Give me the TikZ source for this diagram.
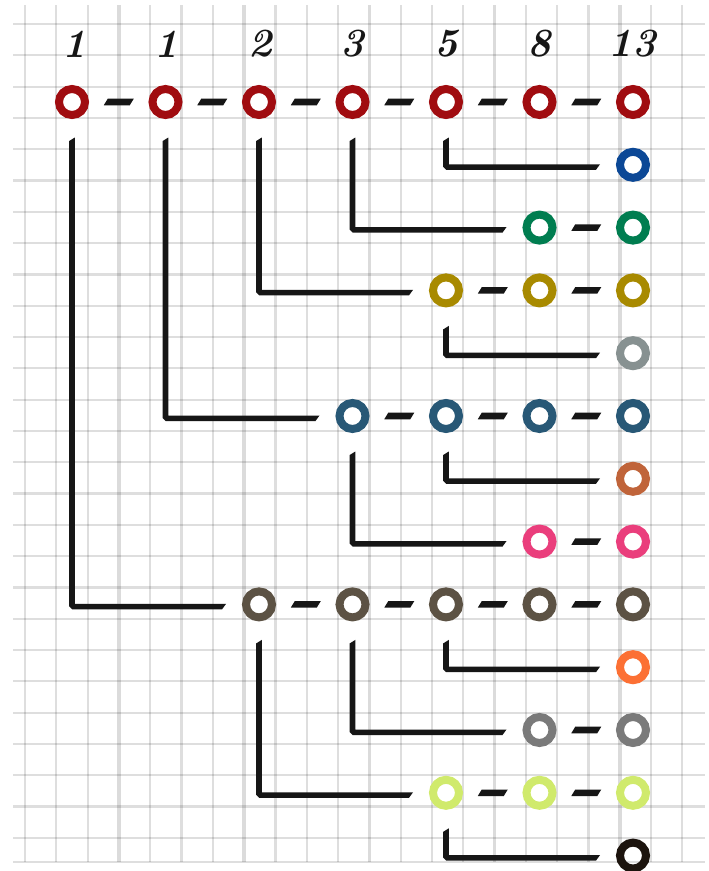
\documentclass[tikz,border=0pt]{standalone}
\usetikzlibrary{calc}
\definecolor{cR}{RGB}{160,12,16}
\definecolor{cB}{RGB}{12,72,150}
\definecolor{cG}{RGB}{0,125,80}
\definecolor{cY}{RGB}{168,138,0}
\definecolor{cL}{RGB}{135,145,145}
\definecolor{cT}{RGB}{40,88,118}
\definecolor{cO}{RGB}{192,100,58}
\definecolor{cP}{RGB}{234,62,124}
\definecolor{cD}{RGB}{92,82,68}
\definecolor{cF}{RGB}{252,112,52}
\definecolor{cM}{RGB}{122,122,122}
\definecolor{cV}{RGB}{208,234,108}
\definecolor{cK}{RGB}{28,20,14}
\definecolor{inkc}{RGB}{22,22,22}
\tikzset{
  ring/.style={circle, draw=#1, line width=8pt, minimum size=26pt, inner sep=0pt, outer sep=0pt},
  ink/.style={fill=inkc},
  gridline/.style={black, opacity=0.13, line width=2.2pt},
  gridthick/.style={black, opacity=0.14, line width=3.6pt},
  numlbl/.style={font=\fontsize{40}{40}\selectfont\bfseries\itshape, inner sep=0pt, text=inkc}
}
\newcommand\dashbar[2]{%
  \fill[ink] let \p1=(#1.center), \p2=(#2.center), \p3=($(#1.center)!0.5!(#2.center)$) in
  (\x3-15pt,\y3-3.3pt) -- (\x3+11pt,\y3-3.3pt) -- (\x3+15pt,\y3+3.3pt) -- (\x3-11pt,\y3+3.3pt) -- cycle;}
\newcommand\brushL[2]{%
  \fill[ink] let \p1=(#1.center), \p2=(#2.center) in
  (\x1-2.8pt,\y1-39pt) -- (\x1+2.8pt,\y1-35.5pt) -- (\x1+2.8pt,\y2+0.5pt)
  -- (\x2-33pt,\y2+0.5pt) -- (\x2-37pt,\y2-5pt) -- (\x1+0.2pt,\y2-5pt)
  -- (\x1-2.8pt,\y2-2pt) -- cycle;}
\newcommand\ringrow[3]{%
  \foreach \c in {#2,...,6} {\node[ring=#3] (r#1c\c) at ({72+93.5*\c},{102+62.8*#1}) {};}
  \ifnum#2<6
    \foreach \c [evaluate=\c as \d using int(\c+1)] in {#2,...,5} {\dashbar{r#1c\c}{r#1c\d}}
  \fi}
\begin{document}
\begin{tikzpicture}[x=1pt,y=-1pt]
\useasboundingbox (0,0) rectangle (709,871);
\fill[white] (0,0) rectangle (709,871);
% grid
\foreach \k in {0,1,2,4,5,6,8,9,10,12,13,14,16,17,18,20,21} {\draw[gridline] ({25+31.3*\k},5) -- ({25+31.3*\k},862);}
\foreach \k in {3,7,11,15,19} {\draw[gridthick] ({25+31.3*\k},5) -- ({25+31.3*\k},862);}
\foreach \k in {0,...,26} {\draw[gridline] (13,{24+31.3*\k}) -- (705,{24+31.3*\k});}
\draw[gridline] (13,862) -- (705,862);
% numbers
\node[numlbl] (n0) at (74,44) {1};
\node[numlbl] (n1) at (166,44) {1};
\node[numlbl] (n2) at (260,44) {2};
\node[numlbl] (n3) at (352,44) {3};
\node[numlbl] (n4) at (446,44) {5};
\node[numlbl] (n5) at (539,44) {8};
\node[numlbl] (n6) at (632,44) {13};
% rows of rings
\ringrow{0}{0}{cR}
\ringrow{1}{6}{cB}
\ringrow{2}{5}{cG}
\ringrow{3}{4}{cY}
\ringrow{4}{6}{cL}
\ringrow{5}{3}{cT}
\ringrow{6}{6}{cO}
\ringrow{7}{5}{cP}
\ringrow{8}{2}{cD}
\ringrow{9}{6}{cF}
\ringrow{10}{5}{cM}
\ringrow{11}{4}{cV}
\ringrow{12}{6}{cK}
% L connectors
\brushL{r0c4}{r1c6}
\brushL{r0c3}{r2c5}
\brushL{r0c2}{r3c4}
\brushL{r3c4}{r4c6}
\brushL{r0c1}{r5c3}
\brushL{r5c4}{r6c6}
\brushL{r5c3}{r7c5}
\brushL{r0c0}{r8c2}
\brushL{r8c4}{r9c6}
\brushL{r8c3}{r10c5}
\brushL{r8c2}{r11c4}
\brushL{r11c4}{r12c6}
\end{tikzpicture}
\end{document}
